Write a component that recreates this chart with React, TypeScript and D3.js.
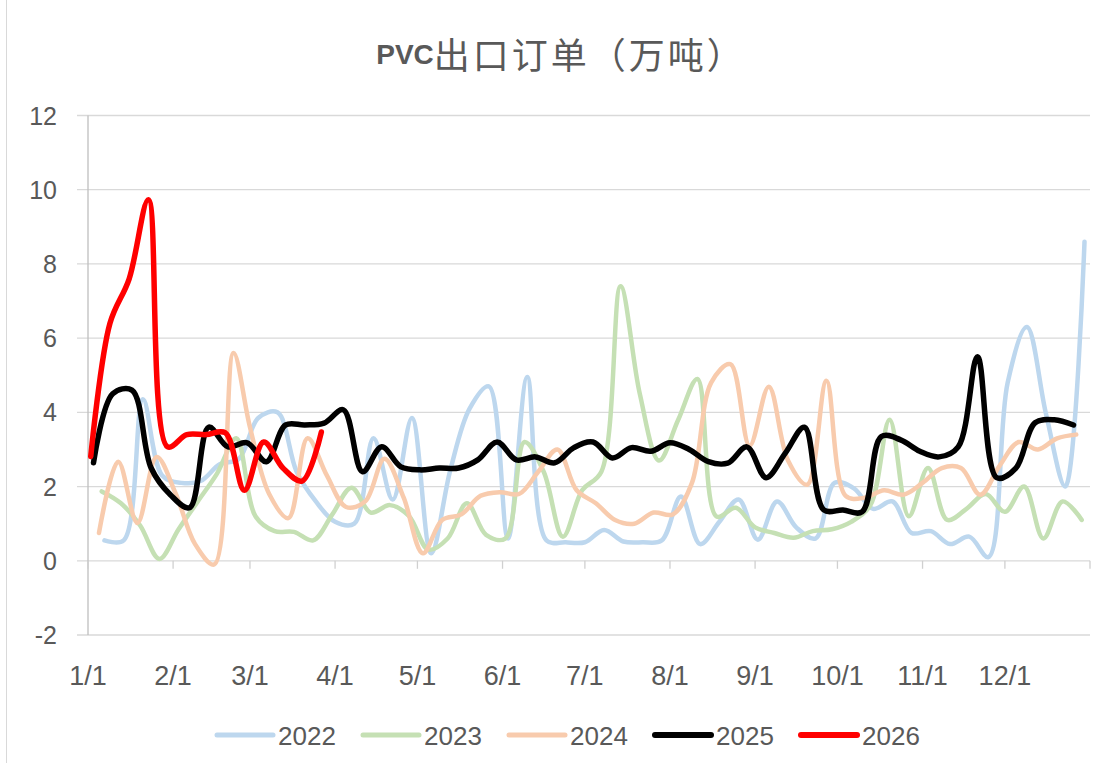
import React from 'react';
import * as d3 from 'd3';

const W = 1105;
const H = 771;

const YEARS = ['2022', '2023', '2024', '2025', '2026'];
const START_DATES = ['2022-01-07', '2023-01-06', '2024-01-05', '2025-01-03', '2026-01-02'];
const COLORS = ['#BDD7EE', '#C5E0B4', '#F8CBAD', '#000000', '#FF0000'];

const V2022 = [0.55, 0.55, 4.35, 2.3, 2.1, 2.15, 2.6, 2.75, 3.85, 4.0, 2.4, 1.6, 1.05, 1.0, 3.3, 1.65, 3.85, 0.2, 2.45, 4.1,
  4.7, 0.6, 4.95, 0.55, 0.5, 0.5, 0.83, 0.52, 0.5, 0.55, 1.73, 0.45, 1.05, 1.65, 0.57, 1.6, 0.9, 0.6, 2.1, 1.95,
  1.4, 1.6, 0.75, 0.8, 0.45, 0.65, 0.1, 4.8, 6.3, 3.95, 2.0, 8.6];
const V2023 = [1.87, 1.55, 0.95, 0.05, 0.85, 1.6, 2.35, 3.3, 1.2, 0.8, 0.78, 0.55, 1.25, 1.97, 1.3, 1.5, 1.2, 0.3, 0.6, 1.55,
  0.7, 0.6, 3.2, 2.4, 0.65, 1.9, 2.4, 7.4, 4.5, 2.7, 3.8, 4.9, 1.19, 1.43, 0.9, 0.75, 0.62, 0.8, 0.85, 1.05,
  1.5, 3.8, 1.2, 2.5, 1.1, 1.4, 1.8, 1.32, 2.0, 0.6, 1.6, 1.1];
const V2024 = [0.75, 2.67, 1.02, 2.8, 1.8, 0.45, -0.1, 5.6, 3.6, 1.8, 1.15, 3.3, 2.3, 1.45, 1.6, 2.75, 1.7, 0.2, 1.1, 1.25,
  1.75, 1.85, 1.8, 2.4, 3.0, 1.9, 1.55, 1.1, 1.0, 1.3, 1.25, 2.1, 4.8, 5.3, 3.1, 4.69, 2.7, 2.05, 4.85, 1.75,
  1.7, 1.9, 1.78, 2.1, 2.5, 2.5, 1.78, 2.55, 3.2, 3.0, 3.3, 3.4];
const V2025 = [2.64, 4.5, 4.6, 2.5, 1.78, 1.43, 3.6, 3.07, 3.18, 2.67, 3.66, 3.66, 3.71, 4.07, 2.4, 3.07, 2.53, 2.45, 2.5, 2.5,
  2.72, 3.2, 2.72, 2.8, 2.64, 3.05, 3.2, 2.77, 3.05, 2.95, 3.18, 3.0, 2.67, 2.63, 3.07, 2.24, 2.9, 3.6, 1.37, 1.37,
  1.32, 3.35, 3.26, 2.95, 2.8, 3.07, 5.5, 2.24, 2.5, 3.72, 3.8, 3.66];
const V2026 = [2.81, 6.4, 7.6, 9.73, 3.07, 3.4, 3.4, 3.45, 1.9, 3.2, 2.5, 2.15, 3.47];

const SERIES_VALUES = [V2022, V2023, V2024, V2025, V2026];
const Y_TICKS = [-2, 0, 2, 4, 6, 8, 10, 12];
const X_TICK_LABELS = ['1/1', '2/1', '3/1', '4/1', '5/1', '6/1', '7/1', '8/1', '9/1', '10/1', '11/1', '12/1'];
const TITLE_LATIN = 'PVC';
const TITLE_CJK = '出口订单（万吨）';

const BASE_YEAR = 2025;
const parse = d3.timeParse('%Y-%m-%d');
const toBase = (d: Date) => new Date(BASE_YEAR, d.getMonth(), d.getDate());

export default function App() {
  const x = d3.scaleTime()
    .domain([new Date(BASE_YEAR, 0, 1), new Date(BASE_YEAR + 1, 0, 1)])
    .range([88, 1090]);
  const y = d3.scaleLinear().domain([-2, 12]).range([635, 115.5]);

  const line = d3.line<{ d: Date; v: number }>()
    .x(p => x(p.d))
    .y(p => y(p.v))
    .curve(d3.curveCatmullRom.alpha(0.5));

  const series = YEARS.map((name, si) => {
    const start = parse(START_DATES[si]) as Date;
    const pts = SERIES_VALUES[si].map((v, i) => ({ d: toBase(d3.timeDay.offset(start, 7 * i)), v }));
    return { name, color: COLORS[si], width: si >= 3 ? 5.5 : 4.5, pts };
  });

  const tickDates = X_TICK_LABELS.map(l => {
    const [m, dd] = l.split('/').map(Number);
    return new Date(BASE_YEAR, m - 1, dd);
  });
  const tickMarks = [...tickDates, new Date(BASE_YEAR + 1, 0, 1)];

  const [x0, x1] = x.range();
  const font = "'Liberation Sans', Arial, sans-serif";

  return (
    <svg width={W} height={H} style={{ position: 'absolute', left: 0, top: 0, background: '#fff' }}>
      <rect x={0} y={0} width={W} height={H} fill="#fff" />
      <line x1={6.5} x2={6.5} y1={0} y2={763} stroke="#d9d9d9" strokeWidth={1} />
      <text x={561} y={64} textAnchor="middle" fill="#595959">
        <tspan fontFamily={font} fontWeight="bold" fontSize={28}>{TITLE_LATIN}</tspan>
        <tspan fontFamily="'Noto Sans CJK SC', sans-serif" fontSize={36} dy={5} letterSpacing={3}>{TITLE_CJK}</tspan>
      </text>

      {Y_TICKS.map(t => (
        <g key={t}>
          <line x1={77} x2={x1} y1={y(t)} y2={y(t)} stroke="#d9d9d9" strokeWidth={1.3} />
          <text x={57} y={y(t) + 9} textAnchor="end" fontFamily={font} fontSize={25} fill="#595959">{t}</text>
        </g>
      ))}
      <line x1={x0} x2={x0} y1={y(12)} y2={y(-2)} stroke="#bfbfbf" strokeWidth={1.3} />
      {tickMarks.map((d, i) => (
        <line key={i} x1={x(d)} x2={x(d)} y1={y(0)} y2={y(0) + 8} stroke="#d0d0d0" strokeWidth={1.3} />
      ))}
      {tickDates.map((d, i) => (
        <text key={i} x={x(d)} y={685} textAnchor="middle" fontFamily={font} fontSize={27} fill="#595959">{X_TICK_LABELS[i]}</text>
      ))}

      {series.map(s => (
        <path key={s.name} d={line(s.pts) || ''} fill="none" stroke={s.color} strokeWidth={s.width}
          strokeLinejoin="round" strokeLinecap="round" />
      ))}

      {series.map((s, i) => {
        const lx = 217 + i * 146;
        return (
          <g key={s.name}>
            <line x1={lx} x2={lx + 56} y1={735} y2={735} stroke={s.color} strokeWidth={s.width + 0.5} strokeLinecap="round" />
            <text x={lx + 61} y={745} fontFamily={font} fontSize={26} fill="#595959">{s.name}</text>
          </g>
        );
      })}
    </svg>
  );
}
